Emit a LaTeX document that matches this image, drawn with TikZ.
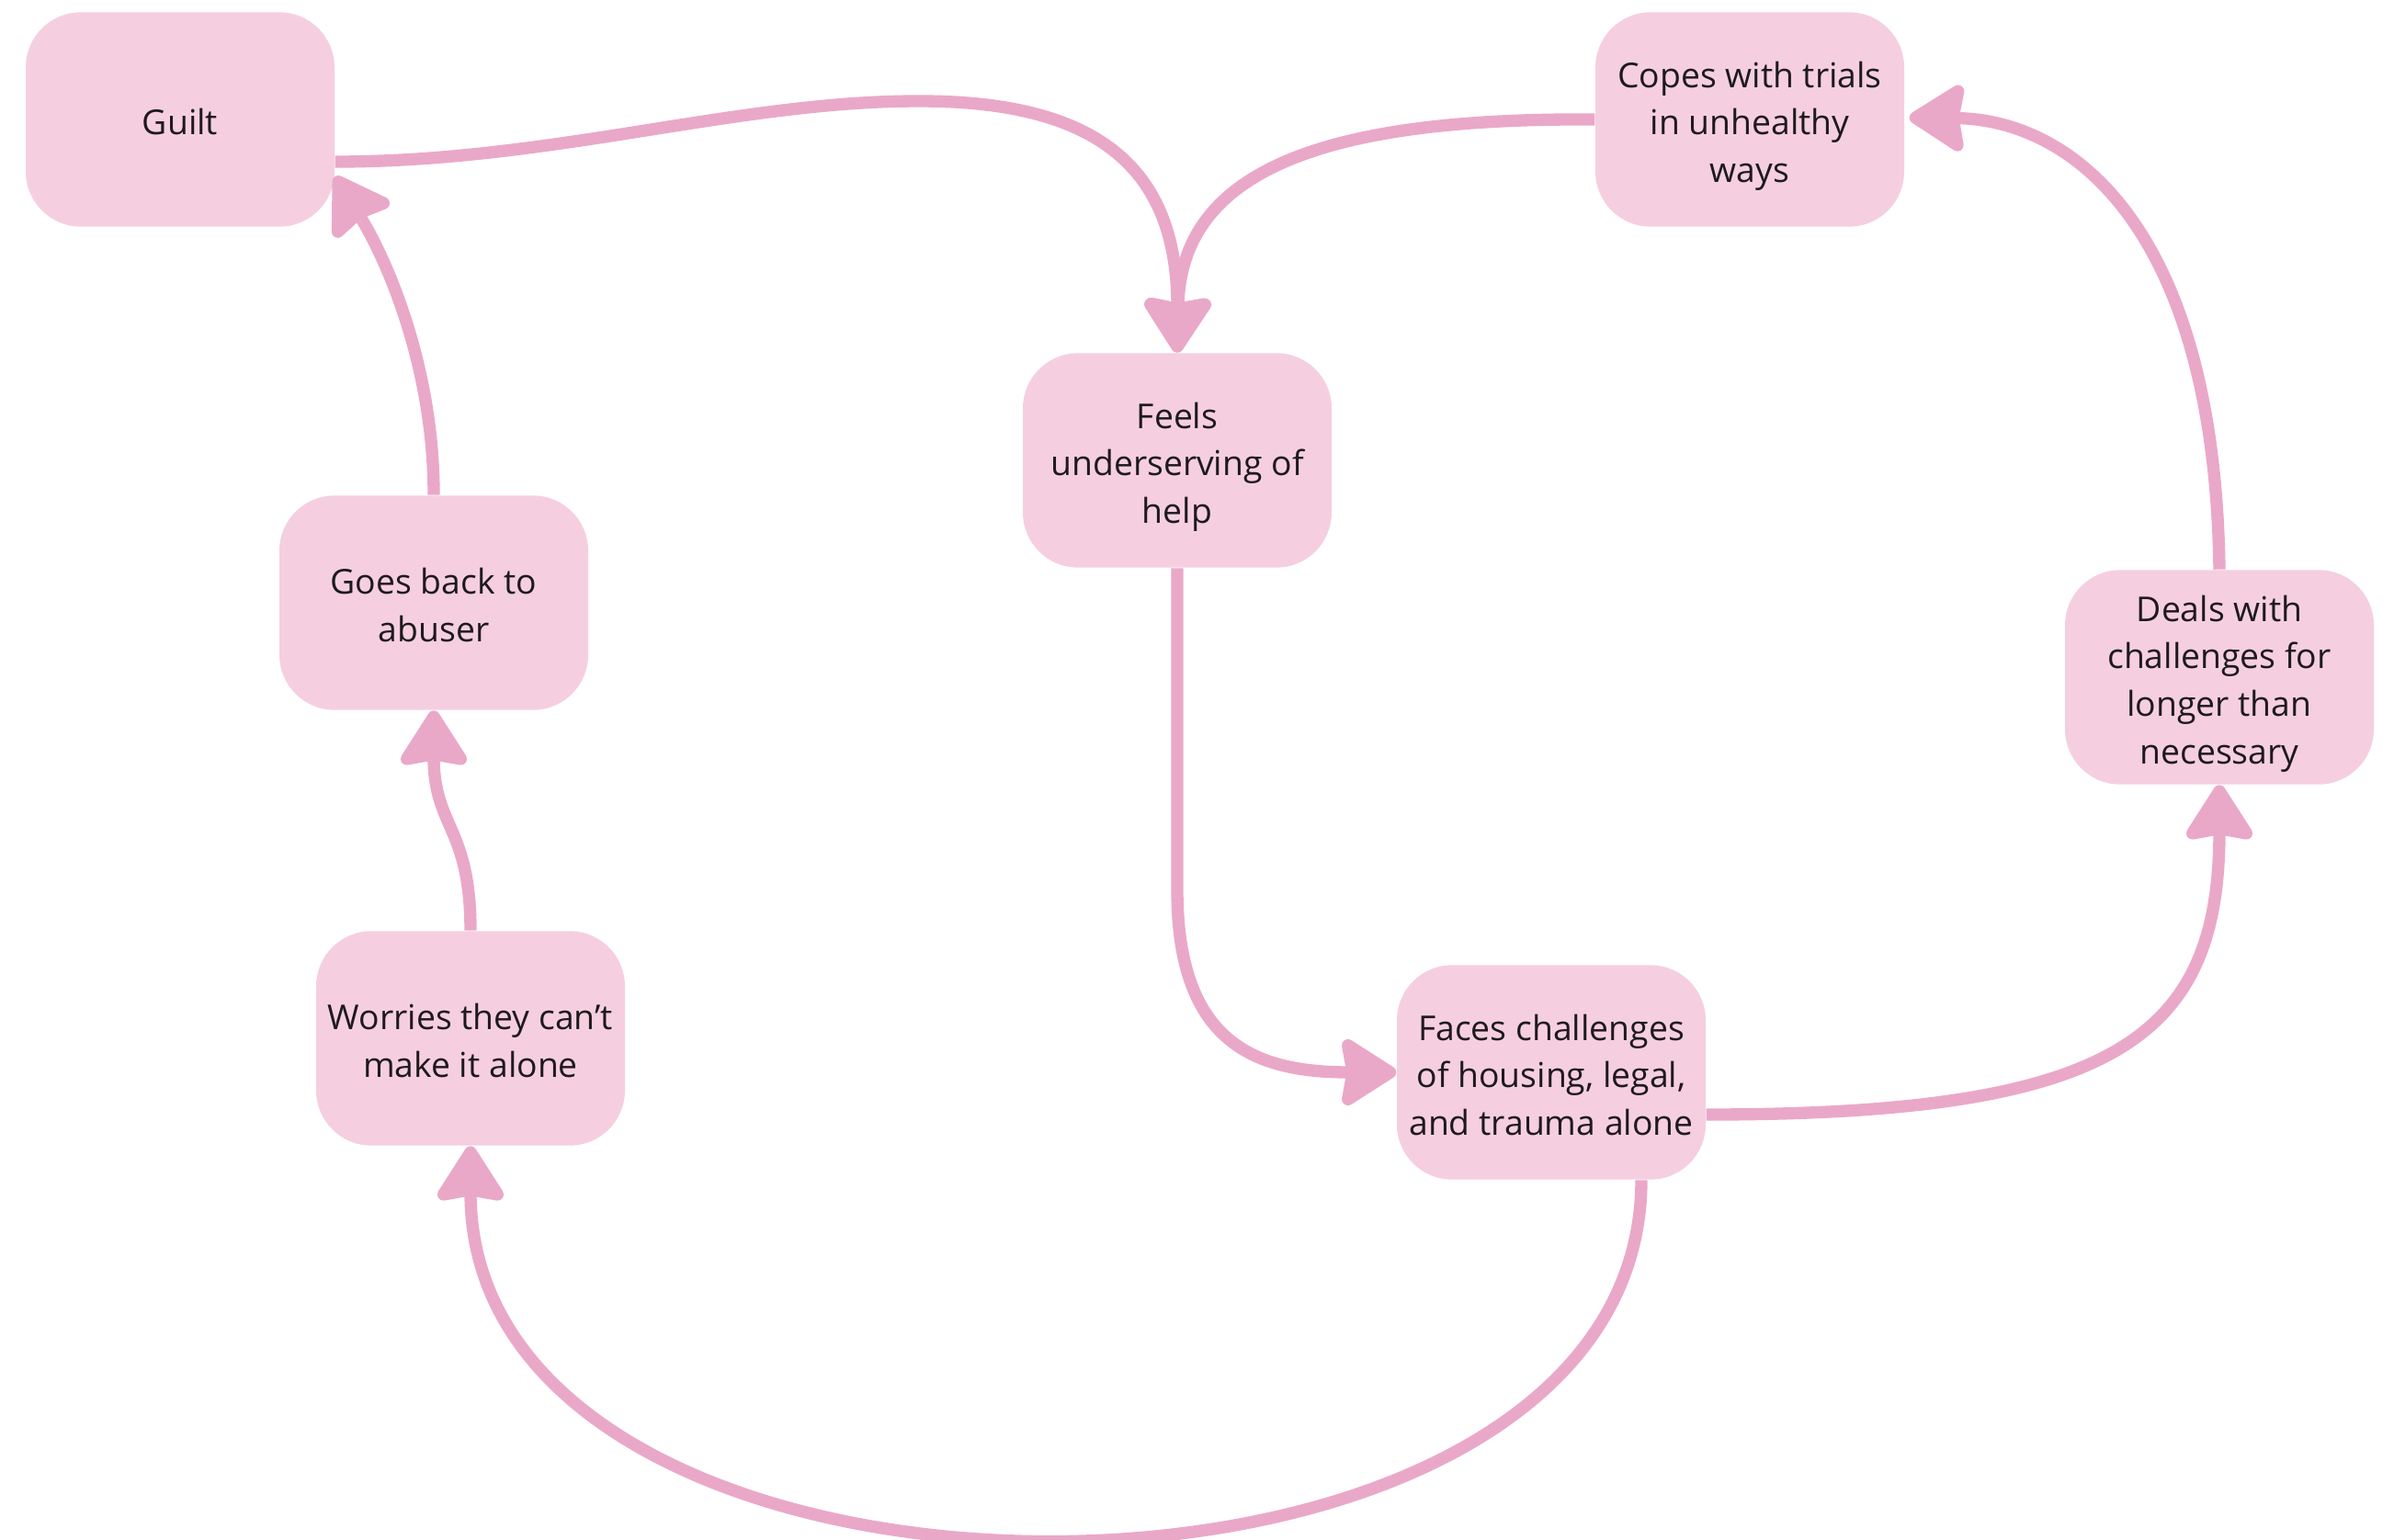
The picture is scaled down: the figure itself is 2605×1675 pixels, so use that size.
\documentclass[tikz,border=0pt]{standalone}
\usepackage{fontspec}
\setmainfont{Open Sans}
\usetikzlibrary{arrows.meta,calc}
\definecolor{boxfill}{HTML}{F5CFE0}
\definecolor{arrowc}{HTML}{EAA8C9}
\definecolor{txt}{HTML}{1E1A1C}
\newcommand{\boxtext}[1]{\raisebox{-1.9pt}[\height][\depth]{\begin{tabular}{@{}c@{}}#1\end{tabular}}}
\begin{document}
\begin{tikzpicture}[x=0.3pt,y=-0.3pt,
  stepbox/.style={draw=none,fill=boxfill,rounded corners=18pt,minimum width=100.8pt,minimum height=70pt,
    align=center,text=txt,font=\fontsize{11.2}{15.5}\selectfont,inner sep=0pt},
  conn/.style={draw=arrowc,line width=4pt,-{Stealth[length=20pt,width=25pt,inset=2pt,round]}}]
\useasboundingbox (0,0) rectangle (2605,1675);
\fill[white] (0,0) rectangle (2605,1675);

\node[stepbox] (guilt) at (196,130) {\boxtext{Guilt}};
\node[stepbox] (copes) at (1904,130) {\boxtext{Copes with trials\\in unhealthy\\ways}};
\node[stepbox] (feels) at (1281,501) {\boxtext{Feels\\underserving of\\help}};
\node[stepbox] (goes) at (472,656) {\boxtext{Goes back to\\abuser}};
\node[stepbox] (deals) at (2415,737) {\boxtext{Deals with\\challenges for\\longer than\\necessary}};
\node[stepbox] (worries) at (512,1130) {\boxtext{Worries they can\symbol{39}t\\make it alone}};
\node[stepbox] (faces) at (1688,1167) {\boxtext{Faces challenges\\of housing, legal,\\and trauma alone}};

% Guilt -> Feels
\draw[conn] ($(guilt.east)+(0,46)$) .. controls +(236,0) and (800,110) .. (1000,110)
  .. controls (1180,110) and ($(feels.north)+(0,-212)$) .. (feels.north);
% Copes -> Feels
\draw[conn] (copes.west) .. controls (1450,128) and ($(feels.north)+(4,-202)$) .. (feels.north);
% Feels -> Faces
\draw[conn] (feels.south) -- ($(feels.south)+(0,350)$) .. controls +(0,170) and +(-150,0) .. (faces.west);
% Faces -> Deals
\draw[conn] ($(faces.east)+(0,46)$) .. controls +(444,0) and +(0,276) .. (deals.south);
% Deals -> Copes
\draw[conn] (deals.north) .. controls +(-5,-370) and +(178,2) .. ($(copes.east)+(5,-2)$);
% Faces -> Worries
\draw[conn] ($(faces.south)+(98,0)$) .. controls +(0,522) and +(0,559) .. (worries.south);
% Worries -> Goes
\draw[conn] (worries.north) .. controls +(0,-113) and +(0,127) .. (goes.south);
% Goes -> Guilt
\draw[conn] (goes.north) .. controls +(0,-140) and +(56,90) .. ($(guilt.east)+(0,62)$);
\end{tikzpicture}
\end{document}
